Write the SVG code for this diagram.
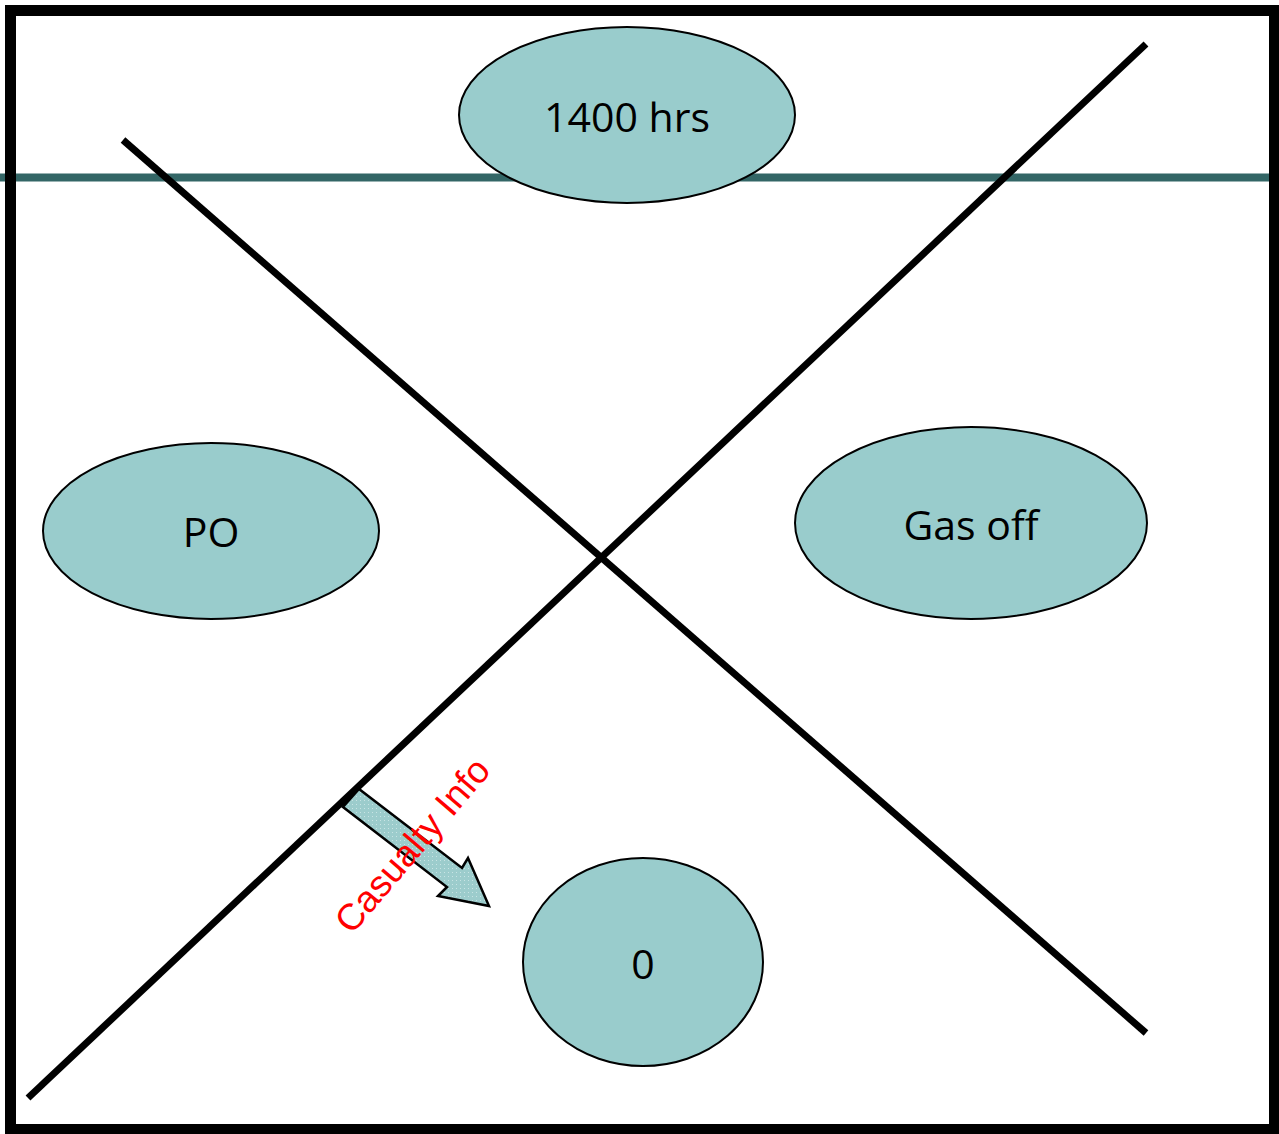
<svg xmlns="http://www.w3.org/2000/svg" width="1279" height="1134" viewBox="0 0 1279 1134">
<style>
.node{fill:#99CCCC;stroke:#000;stroke-width:2}
.lbl{font-family:"Open Sans","Liberation Sans",sans-serif;font-size:41px;fill:#000;text-anchor:middle}
.diag{stroke:#000;stroke-width:7;fill:none}
</style>
<defs>
<pattern id="dots" width="4" height="4" patternUnits="userSpaceOnUse">
<rect width="4" height="4" fill="#9CCCCC"/>
<rect x="0" y="0" width="1" height="1" fill="#C8E4E4"/>
</pattern>
</defs>
<rect x="0" y="0" width="1279" height="1134" fill="#fff"/>
<line x1="0" y1="177.5" x2="1269" y2="177.5" stroke="#336666" stroke-width="8"/>
<g id="connectors">
<line class="diag" x1="123" y1="140" x2="1146" y2="1033"/>
<line class="diag" x1="28" y1="1098" x2="1146" y2="44"/>
<path d="M343,807 L359,789 L462,868 L468,858 L489,906 L438,896 L447,887 Z" fill="url(#dots)" stroke="#000" stroke-width="2.5" stroke-linejoin="miter"/>
</g>
<g id="node-1400">
<ellipse class="node" cx="627" cy="115" rx="168" ry="88"/>
<text class="lbl" x="627" y="132">1400 hrs</text>
</g>
<g id="node-po">
<ellipse class="node" cx="211" cy="531" rx="168" ry="88"/>
<text class="lbl" x="211" y="547">PO</text>
</g>
<g id="node-gas">
<ellipse class="node" cx="971" cy="523" rx="176" ry="96"/>
<text class="lbl" x="971" y="540">Gas off</text>
</g>
<g id="node-0">
<ellipse class="node" cx="643" cy="962" rx="120" ry="104"/>
<text class="lbl" x="643" y="979">0</text>
</g>
<text transform="translate(412,845) rotate(-49.5)" x="0" y="13" font-family="'Liberation Sans',Arial,sans-serif" font-size="37" fill="#FF0000" text-anchor="middle">Casualty Info</text>
<rect x="10.5" y="10.5" width="1264" height="1119" fill="none" stroke="#000" stroke-width="11"/>
</svg>
